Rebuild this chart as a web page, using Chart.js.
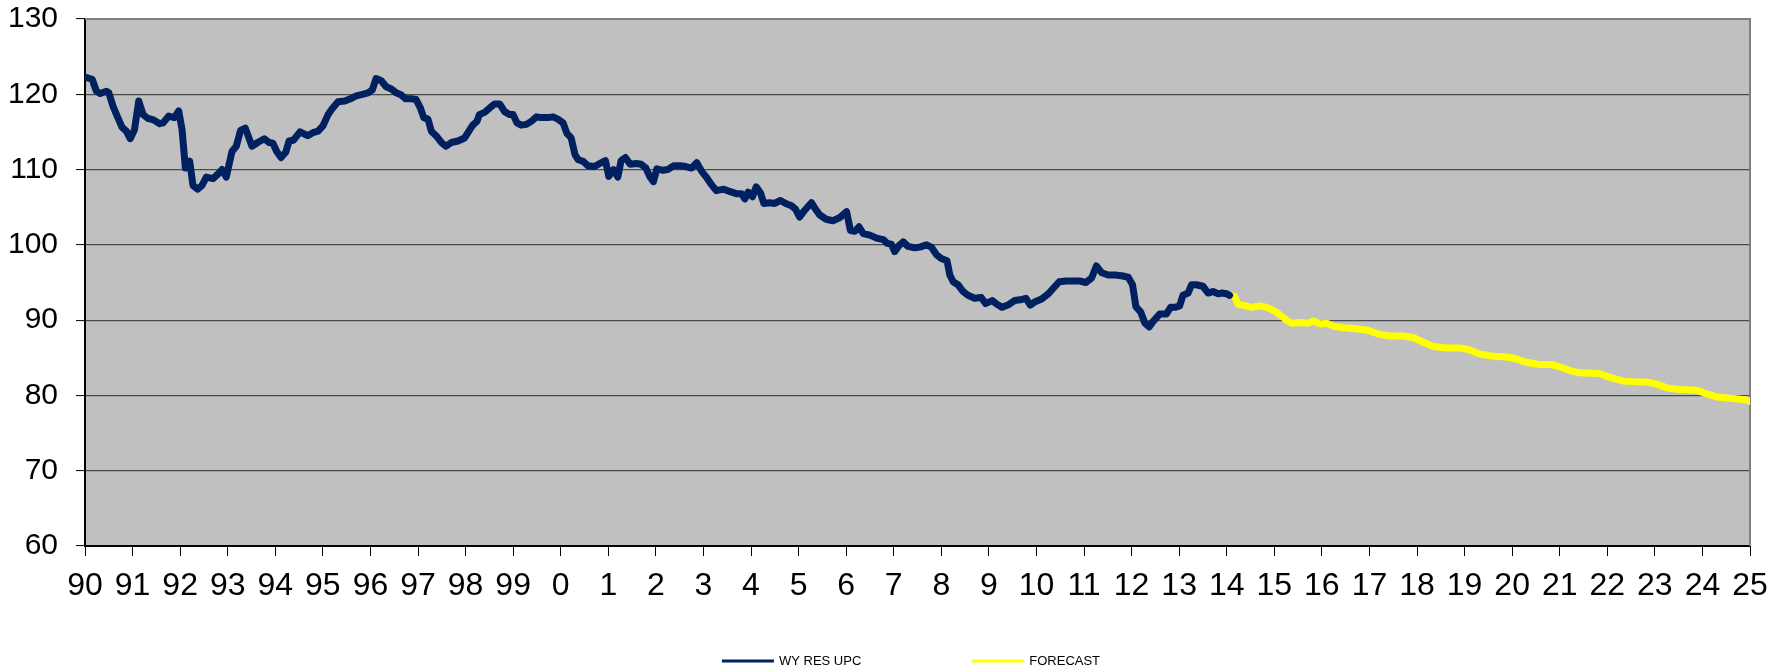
<!DOCTYPE html>
<html>
<head>
<meta charset="utf-8">
<script src="https://cdn.jsdelivr.net/npm/chart.js@4/dist/chart.umd.min.js"></script>
<style>
  html, body { margin: 0; padding: 0; background: #fff; }
  #wrap { width: 1785px; height: 670px; }
</style>
</head>
<body>
<div id="wrap"><canvas id="chart" width="1785" height="670"></canvas></div>
<script>
// x tick labels, one per year 1990..2025
const yearLabels = [
  '90', '91', '92', '93', '94', '95', '96', '97', '98', '99',
  '0', '1', '2', '3', '4', '5', '6', '7', '8', '9',
  '10', '11', '12', '13', '14', '15', '16', '17', '18', '19',
  '20', '21', '22', '23', '24', '25',
]

const seriesNames = ['WY RES UPC', 'FORECAST']

const histYears = [
  1990.00, 1990.15, 1990.24, 1990.32, 1990.45, 1990.50, 1990.59, 1990.69, 1990.78, 1990.87,
  1990.95, 1991.04, 1991.13, 1991.22, 1991.32, 1991.44, 1991.57, 1991.64, 1991.76, 1991.88,
  1991.97, 1992.04, 1992.11, 1992.20, 1992.27, 1992.37, 1992.46, 1992.55, 1992.69, 1992.81,
  1992.88, 1992.97, 1993.09, 1993.18, 1993.27, 1993.37, 1993.51, 1993.63, 1993.77, 1993.87,
  1993.95, 1994.03, 1994.12, 1994.22, 1994.29, 1994.38, 1994.52, 1994.68, 1994.79, 1994.90,
  1995.00, 1995.11, 1995.21, 1995.32, 1995.46, 1995.58, 1995.70, 1995.83, 1995.95, 1996.04,
  1996.12, 1996.23, 1996.33, 1996.44, 1996.54, 1996.65, 1996.74, 1996.86, 1996.96, 1997.05,
  1997.12, 1997.21, 1997.28, 1997.38, 1997.49, 1997.59, 1997.70, 1997.84, 1997.98, 1998.07,
  1998.15, 1998.24, 1998.29, 1998.40, 1998.51, 1998.61, 1998.72, 1998.82, 1998.93, 1999.00,
  1999.08, 1999.17, 1999.28, 1999.38, 1999.49, 1999.59, 1999.73, 1999.84, 1999.94, 2000.05,
  2000.13, 2000.22, 2000.30, 2000.37, 2000.47, 2000.57, 2000.71, 2000.85, 2000.94, 2001.01,
  2001.11, 2001.20, 2001.27, 2001.36, 2001.46, 2001.59, 2001.69, 2001.79, 2001.87, 2001.95,
  2002.02, 2002.15, 2002.25, 2002.37, 2002.50, 2002.63, 2002.75, 2002.86, 2002.96, 2003.06,
  2003.17, 2003.27, 2003.43, 2003.55, 2003.69, 2003.80, 2003.87, 2003.94, 2004.03, 2004.11,
  2004.20, 2004.27, 2004.39, 2004.50, 2004.62, 2004.73, 2004.85, 2004.94, 2005.02, 2005.13,
  2005.27, 2005.34, 2005.44, 2005.58, 2005.72, 2005.86, 2006.01, 2006.09, 2006.18, 2006.27,
  2006.36, 2006.50, 2006.64, 2006.78, 2006.86, 2006.95, 2007.02, 2007.11, 2007.20, 2007.30,
  2007.44, 2007.55, 2007.69, 2007.79, 2007.90, 2008.00, 2008.12, 2008.18, 2008.25, 2008.35,
  2008.46, 2008.56, 2008.70, 2008.84, 2008.93, 2009.07, 2009.17, 2009.28, 2009.40, 2009.54,
  2009.66, 2009.78, 2009.87, 2009.96, 2010.11, 2010.25, 2010.35, 2010.48, 2010.63, 2010.77,
  2010.91, 2011.04, 2011.16, 2011.26, 2011.37, 2011.51, 2011.65, 2011.79, 2011.93, 2012.02,
  2012.09, 2012.19, 2012.28, 2012.37, 2012.45, 2012.59, 2012.73, 2012.82, 2012.91, 2013.01,
  2013.08, 2013.19, 2013.26, 2013.36, 2013.50, 2013.61, 2013.71, 2013.82, 2013.89, 2014.00,
  2014.06,
]
const histValues = [
  122.3, 122.0, 120.4, 120.1, 120.4, 120.2, 118.4, 116.9, 115.6, 115.1,
  114.1, 115.3, 119.1, 117.3, 116.8, 116.6, 116.1, 116.2, 117.1, 116.9,
  117.8, 115.3, 110.2, 111.1, 107.9, 107.4, 107.9, 109.0, 108.8, 109.5,
  110.0, 109.0, 112.4, 113.1, 115.2, 115.5, 113.1, 113.6, 114.1, 113.6,
  113.5, 112.4, 111.6, 112.3, 113.8, 113.9, 115.0, 114.5, 114.9, 115.1,
  115.8, 117.3, 118.2, 119.0, 119.1, 119.4, 119.8, 120.0, 120.2, 120.6,
  122.1, 121.8, 121.0, 120.7, 120.2, 119.9, 119.4, 119.4, 119.3, 118.2,
  116.9, 116.7, 115.1, 114.5, 113.6, 113.1, 113.6, 113.8, 114.2, 115.1,
  115.9, 116.4, 117.3, 117.6, 118.2, 118.7, 118.7, 117.7, 117.3, 117.3,
  116.2, 115.9, 116.0, 116.4, 117.0, 116.9, 116.9, 117.0, 116.7, 116.2,
  114.8, 114.2, 112.0, 111.3, 111.1, 110.5, 110.4, 110.9, 111.2, 109.1,
  110.0, 109.0, 111.2, 111.6, 110.7, 110.8, 110.7, 110.2, 109.1, 108.4,
  110.1, 109.9, 110.0, 110.5, 110.5, 110.4, 110.2, 110.9, 109.8, 109.0,
  108.0, 107.2, 107.4, 107.1, 106.8, 106.8, 106.1, 107.0, 106.4, 107.7,
  106.9, 105.5, 105.6, 105.5, 105.9, 105.5, 105.2, 104.7, 103.7, 104.6,
  105.6, 104.9, 104.0, 103.4, 103.2, 103.6, 104.4, 101.9, 101.8, 102.4,
  101.5, 101.3, 100.9, 100.7, 100.2, 100.1, 99.1, 99.9, 100.4, 99.8,
  99.6, 99.7, 100.0, 99.7, 98.7, 98.2, 97.9, 96.0, 95.1, 94.7,
  93.8, 93.3, 92.9, 93.0, 92.2, 92.6, 92.1, 91.7, 92.0, 92.6,
  92.7, 92.9, 92.0, 92.4, 92.8, 93.5, 94.2, 95.1, 95.2, 95.2,
  95.2, 95.0, 95.6, 97.2, 96.3, 96.0, 96.0, 95.9, 95.7, 94.7,
  91.8, 91.1, 89.6, 89.1, 89.8, 90.8, 90.8, 91.7, 91.7, 91.9,
  93.3, 93.6, 94.7, 94.7, 94.5, 93.6, 93.8, 93.5, 93.6, 93.5,
  93.3,
]

// forecast
const forecastYears = [
  2014.08, 2014.17, 2014.24, 2014.34, 2014.52, 2014.70, 2014.84, 2015.01, 2015.12, 2015.26,
  2015.36, 2015.54, 2015.71, 2015.82, 2015.96, 2016.10, 2016.24, 2016.45, 2016.66, 2016.94,
  2017.22, 2017.43, 2017.71, 2017.92, 2018.09, 2018.34, 2018.62, 2018.90, 2019.08, 2019.32,
  2019.60, 2019.88, 2020.06, 2020.30, 2020.58, 2020.83, 2021.00, 2021.21, 2021.42, 2021.84,
  2022.05, 2022.34, 2022.65, 2022.83, 2023.04, 2023.25, 2023.53, 2023.88, 2024.09, 2024.30,
  2024.65, 2024.93, 2025.00,
]
const forecastValues = [
  93.3, 93.1, 92.1, 92.0, 91.7, 91.9, 91.7, 91.2, 90.7, 90.0,
  89.6, 89.7, 89.6, 89.9, 89.5, 89.6, 89.2, 89.0, 88.9, 88.7,
  88.1, 87.9, 87.9, 87.7, 87.2, 86.5, 86.3, 86.3, 86.1, 85.5,
  85.2, 85.1, 84.9, 84.4, 84.1, 84.1, 83.8, 83.3, 83.0, 82.9,
  82.4, 81.9, 81.8, 81.8, 81.5, 81.0, 80.8, 80.7, 80.2, 79.8,
  79.6, 79.4, 79.2,
]

const colors = {
  navy: '#002060',
  yellow: '#ffff00',
  plot: '#c0c0c0',
  grid: '#4a4a4a',
  frame: '#808080',
}
const fontFamily = 'Arial, "Liberation Sans", sans-serif'

function toPoints(xs, ys) {
  return xs.map((x, i) => ({ x, y: ys[i] }))
}

// grey plot area with the grey top/right frame
const plotArea = {
  id: 'plotArea',
  beforeDraw(chart) {
    const { ctx, chartArea: a } = chart
    ctx.save()
    ctx.fillStyle = colors.plot
    ctx.fillRect(a.left, a.top, a.right - a.left, a.bottom - a.top)
    ctx.restore()
  },
  beforeDatasetsDraw(chart) {
    const { ctx, chartArea: a } = chart
    ctx.save()
    ctx.strokeStyle = colors.frame
    ctx.lineWidth = 2
    ctx.beginPath()
    ctx.moveTo(a.left, a.top)
    ctx.lineTo(a.right, a.top)
    ctx.lineTo(a.right, a.bottom)
    ctx.stroke()
    ctx.restore()
  },
}

// small legend row under the axis
const legendRow = {
  id: 'legendRow',
  afterDraw(chart) {
    const ctx = chart.ctx
    const lineLen = 52
    const gap = 5
    const spacing = 111
    ctx.save()
    ctx.font = '13px ' + fontFamily
    ctx.textBaseline = 'middle'
    const items = chart.data.datasets.map((ds) => ({
      text: ds.label,
      color: ds.borderColor,
      width: lineLen + gap + ctx.measureText(ds.label).width,
    }))
    const total = items.reduce((s, it) => s + it.width, 0) + spacing * (items.length - 1)
    let x = 911 - total / 2
    const y = 661
    items.forEach((it) => {
      ctx.fillStyle = it.color
      ctx.fillRect(x, y - 1.5, lineLen, 3)
      ctx.fillStyle = '#000'
      ctx.fillText(it.text, x + lineLen + gap, y + 0.5)
      x += it.width + spacing
    })
    ctx.restore()
  },
}

new Chart(document.getElementById('chart'), {
  type: 'line',
  data: {
    datasets: [
      {
        label: seriesNames[0],
        data: toPoints(histYears, histValues),
        borderColor: colors.navy,
        borderWidth: 7,
        pointRadius: 0,
        tension: 0,
        borderJoinStyle: 'round',
        borderCapStyle: 'round',
      },
      {
        label: seriesNames[1],
        data: toPoints(forecastYears, forecastValues),
        borderColor: colors.yellow,
        borderWidth: 7,
        pointRadius: 0,
        tension: 0,
        borderJoinStyle: 'round',
        borderCapStyle: 'round',
      },
    ],
  },
  options: {
    responsive: false,
    devicePixelRatio: 1,
    animation: false,
    layout: { padding: { top: 19, right: 35, bottom: 0, left: 0 } },
    plugins: {
      legend: { display: false },
      tooltip: { enabled: false },
    },
    scales: {
      x: {
        type: 'linear',
        min: 1990,
        max: 2025,
        afterFit: (scale) => { scale.height = 124 },
        afterBuildTicks: (scale) => {
          scale.ticks = yearLabels.map((_, i) => ({ value: 1990 + i }))
        },
        ticks: {
          autoSkip: false,
          maxRotation: 0,
          minRotation: 0,
          padding: 11,
          color: '#000',
          font: { family: fontFamily, size: 32 },
          callback: (value, index) => yearLabels[index],
        },
        grid: {
          drawOnChartArea: false,
          tickLength: 10,
          tickColor: '#000',
          tickWidth: 1,
        },
        border: { color: '#000', width: 2 },
      },
      y: {
        min: 60,
        max: 130,
        afterFit: (scale) => {
          scale.width = 85
          // label padding would otherwise push the plot top down
          scale.paddingTop = 0
          scale.paddingBottom = 0
        },
        ticks: {
          stepSize: 10,
          padding: 18,
          color: '#000',
          font: { family: fontFamily, size: 30 },
        },
        grid: {
          color: colors.grid,
          lineWidth: 1.2,
          tickLength: 9,
          tickColor: '#000',
          tickWidth: 1,
        },
        border: { color: '#000', width: 2 },
      },
    },
  },
  plugins: [plotArea, legendRow],
})
</script>
</body>
</html>
